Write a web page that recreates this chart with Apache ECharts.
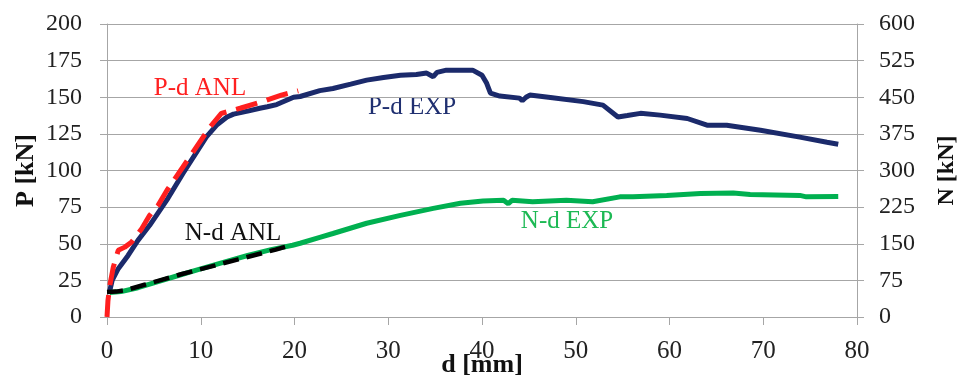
<!DOCTYPE html>
<html>
<head>
<meta charset="utf-8">
<script src="https://cdn.jsdelivr.net/npm/echarts@6/dist/echarts.min.js"></script>
<style>
  html, body { margin: 0; padding: 0; background: #fff; }
  #chart { width: 958px; height: 377px; }
</style>
</head>
<body>
<div id="chart"></div>
<script>
// Displacement d [mm] vs load P [kN] (left axis) and axial force N [kN] (right axis)
const xTicks = { min: 0, max: 80, interval: 10 };
const pTicks = { min: 0, max: 200, interval: 25 };
const nTicks = { min: 0, max: 600, interval: 75 };

// P-d experimental curve: [d, P]
const pdExp = [
  [0.3, 18], [0.55, 25], [1.2, 33], [2.25, 42], [3.3, 52.3], [4.55, 62.6],
  [6.5, 81], [8.1, 98], [9.3, 110], [10.6, 123], [11.7, 131], [12.8, 136.5],
  [13.5, 138.5], [15, 140.5], [16.3, 142.5], [17.1, 143.5], [18.1, 145],
  [19.9, 150], [20.6, 150.5], [22.7, 154.5], [24.1, 156], [26, 159],
  [27.7, 161.7], [29.5, 163.5], [31.3, 165], [33, 165.5], [34.1, 166.5],
  [34.8, 164], [35.2, 167], [36.2, 168.5], [39, 168.5], [40, 165],
  [40.5, 159.5], [40.9, 152.8], [41.9, 150.8], [44, 149.4], [44.3, 147.6],
  [44.7, 150], [45.1, 151.5], [47.3, 149.9], [50.8, 147], [52.9, 144.6],
  [54.5, 136.5], [55.5, 137.5], [56.9, 139], [59, 137.8], [61.9, 135.5],
  [64, 130.9], [66.1, 130.9], [69.7, 127.5], [73.9, 122.8], [76.8, 119.3],
  [78, 117.9]
];

// P-d analytical curve: [d, P]
const pdAnl = [
  [0, 0], [0.1, 11], [0.3, 21.5], [0.67, 34], [1.2, 45.5], [1.9, 47.7],
  [2.6, 51], [3.7, 60.3], [4.55, 69.4], [5.45, 76.2], [6.4, 86.5],
  [8.1, 102.4], [11, 129.8], [12.2, 139], [14.2, 142.5], [16.5, 146.9],
  [18.6, 151.5], [20.4, 154.4]
];

// N-d experimental curve: [d, N]
const ndExp = [
  [0.3, 50], [1.5, 52], [3.3, 60], [5, 70], [7.6, 85], [9.9, 98],
  [12.4, 112], [15, 126], [17.5, 138], [19.8, 147], [20.6, 151],
  [22.7, 163], [24.1, 171], [27.7, 192], [31.3, 208], [34.8, 222.5],
  [37.7, 233], [40.1, 237.5], [42.3, 239], [42.8, 232], [43.2, 239],
  [45.4, 236], [49, 239], [51.8, 236], [54.7, 246], [56.1, 246],
  [59.7, 249], [63.3, 253], [66.8, 254], [68.6, 251], [73.9, 249],
  [74.6, 246], [78, 247]
];

// N-d analytical curve: [d, N]
const ndAnl = [
  [0, 51], [1, 52], [2, 55], [4, 66], [6, 77], [8, 88], [10, 98],
  [12, 108], [14, 118], [16, 128], [18, 138], [19.6, 147]
];

const SERIF = '"Liberation Serif", "Times New Roman", serif';
const gridGray = '#a6a6a6';
const tickText = '#222';

const chart = echarts.init(document.getElementById('chart'), null, { renderer: 'canvas' });

const valueAxisCommon = {
  type: 'value',
  axisLine: { show: true, lineStyle: { color: gridGray, width: 1 } },
  axisTick: { show: true, inside: false, length: 7, lineStyle: { color: gridGray, width: 1 } },
  axisLabel: { color: tickText, fontSize: 24, fontFamily: SERIF },
  nameTextStyle: { color: '#111', fontSize: 26, fontWeight: 'bold', fontFamily: SERIF },
  nameLocation: 'middle',
  nameMoveOverlap: false
};

chart.setOption({
  animation: false,
  backgroundColor: '#fff',
  grid: { left: 107, right: 101, top: 24, bottom: 60, containLabel: false, outerBoundsMode: 'none' },
  xAxis: Object.assign({}, valueAxisCommon, {
    min: xTicks.min, max: xTicks.max, interval: xTicks.interval,
    name: 'd [mm]', nameGap: 35,
    axisTick: { show: true, inside: false, length: 8, lineStyle: { color: gridGray } },
    axisLabel: { color: tickText, fontSize: 25, fontFamily: SERIF, margin: 22 },
    splitLine: { show: false }
  }),
  yAxis: [
    Object.assign({}, valueAxisCommon, {
      position: 'left',
      min: pTicks.min, max: pTicks.max, interval: pTicks.interval,
      name: 'P [kN]', nameRotate: 90, nameGap: 68,
      axisLabel: { color: tickText, fontSize: 24, fontFamily: SERIF, margin: 25 },
      splitLine: { show: true, lineStyle: { color: gridGray, width: 1 } }
    }),
    Object.assign({}, valueAxisCommon, {
      position: 'right',
      min: nTicks.min, max: nTicks.max, interval: nTicks.interval,
      name: 'N [kN]', nameRotate: 90, nameGap: 78,
      nameTextStyle: { color: '#111', fontSize: 24, fontWeight: 'bold', fontFamily: SERIF },
      axisLabel: { color: tickText, fontSize: 24, fontFamily: SERIF, margin: 22 },
      splitLine: { show: false }
    })
  ],
  series: [
    {
      name: 'P-d EXP', type: 'line', yAxisIndex: 0, data: pdExp,
      showSymbol: false, symbol: 'none',
      lineStyle: { color: '#1b2a6b', width: 5 }, z: 2
    },
    {
      name: 'N-d EXP', type: 'line', yAxisIndex: 1, data: ndExp,
      showSymbol: false, symbol: 'none',
      lineStyle: { color: '#00b050', width: 5 }, z: 2
    },
    {
      name: 'P-d ANL', type: 'line', yAxisIndex: 0, data: pdAnl,
      showSymbol: false, symbol: 'none',
      lineStyle: { color: '#ff1f1f', width: 5, type: [22, 10] }, z: 3
    },
    {
      name: 'N-d ANL', type: 'line', yAxisIndex: 1, data: ndAnl,
      showSymbol: false, symbol: 'none',
      lineStyle: { color: '#000', width: 4.5, type: [16, 8] }, z: 3
    }
  ],
  graphic: [
    { type: 'text', x: 200, y: 88, style: { text: 'P-d ANL', fill: '#ff2020', font: '25px ' + SERIF, align: 'center', verticalAlign: 'middle', textAlign: 'center', textVerticalAlign: 'middle' } },
    { type: 'text', x: 412, y: 107, style: { text: 'P-d EXP', fill: '#1f2f70', font: '25px ' + SERIF, align: 'center', verticalAlign: 'middle', textAlign: 'center', textVerticalAlign: 'middle' } },
    { type: 'text', x: 233, y: 233, style: { text: 'N-d ANL', fill: '#111', font: '25px ' + SERIF, align: 'center', verticalAlign: 'middle', textAlign: 'center', textVerticalAlign: 'middle' } },
    { type: 'text', x: 567, y: 221, style: { text: 'N-d EXP', fill: '#1db954', font: '25px ' + SERIF, align: 'center', verticalAlign: 'middle', textAlign: 'center', textVerticalAlign: 'middle' } }
  ]
});
</script>
</body>
</html>
